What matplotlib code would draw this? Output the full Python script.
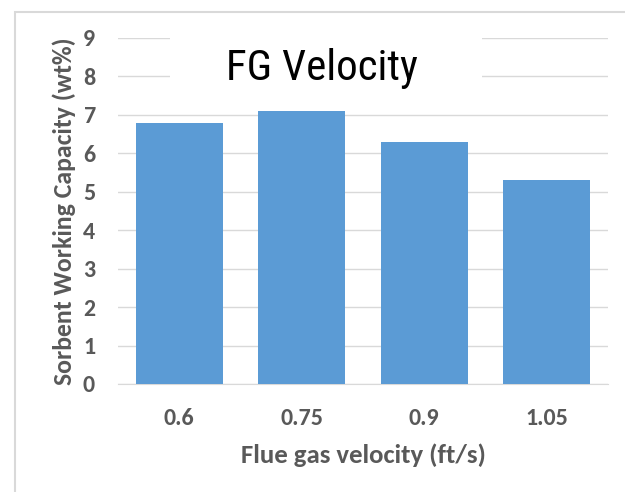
import matplotlib
matplotlib.use("Agg")
import matplotlib.pyplot as plt
from matplotlib.patches import Rectangle

categories = ["0.6", "0.75", "0.9", "1.05"]
values = [6.8, 7.1, 6.3, 5.3]
yticks = list(range(0, 10))

bar_color = "#5B9BD5"
text_gray = "#595959"
grid_gray = "#D9D9D9"
label_font = ["Carlito", "DejaVu Sans"]
title_font = ["Roboto Condensed", "DejaVu Sans"]

W, H = 625, 492
fig = plt.figure(figsize=(W / 100, H / 100), dpi=100)
fig.patch.set_facecolor("white")

# outer chart border (runs past the right/bottom edges)
fig.patches.append(Rectangle((15 / W, -0.1), 1.2, 1 - 12 / H + 0.1,
                             transform=fig.transFigure, fill=False,
                             edgecolor=grid_gray, linewidth=1.5))

ax = fig.add_axes([118 / W, 1 - 384 / H, 490 / W, (384 - 38) / H])
x = list(range(len(categories)))
ax.bar(x, values, width=0.71, color=bar_color, zorder=3)
ax.set_xlim(-0.5, 3.5)
ax.set_ylim(0, 9)
ax.set_yticks(yticks)
ax.set_xticks(x)
ax.set_xticklabels(categories)
ax.grid(axis="y", color=grid_gray, linewidth=1.0, zorder=0)
for s in ["top", "right", "left"]:
    ax.spines[s].set_visible(False)
ax.spines["bottom"].set_color(grid_gray)
ax.tick_params(axis="both", length=0, labelsize=17.3, labelcolor=text_gray)
ax.tick_params(axis="x", pad=17)
ax.tick_params(axis="y", pad=16.5)
for lbl in ax.get_xticklabels() + ax.get_yticklabels():
    lbl.set_fontfamily(label_font)
    lbl.set_fontweight("bold")

ax.set_xlabel("Flue gas velocity (ft/s)", fontsize=19.3, fontweight="bold",
              color=text_gray, family=label_font, labelpad=11)
ax.set_ylabel("Sorbent Working Capacity (wt%)", fontsize=18.5, fontweight="bold",
              color=text_gray, family=label_font, labelpad=5)

# white box behind the title that interrupts the top gridlines
fig.patches.append(Rectangle((170 / W, 1 - 100 / H), 312 / W, 72 / H,
                             transform=fig.transFigure, facecolor="white",
                             edgecolor="none", zorder=4))
fig.text(322 / W, 1 - 80 / H, "FG Velocity", fontsize=31,
         family=title_font, color="black",
         ha="center", va="baseline", zorder=5)

fig.savefig("out.png", dpi=100)
